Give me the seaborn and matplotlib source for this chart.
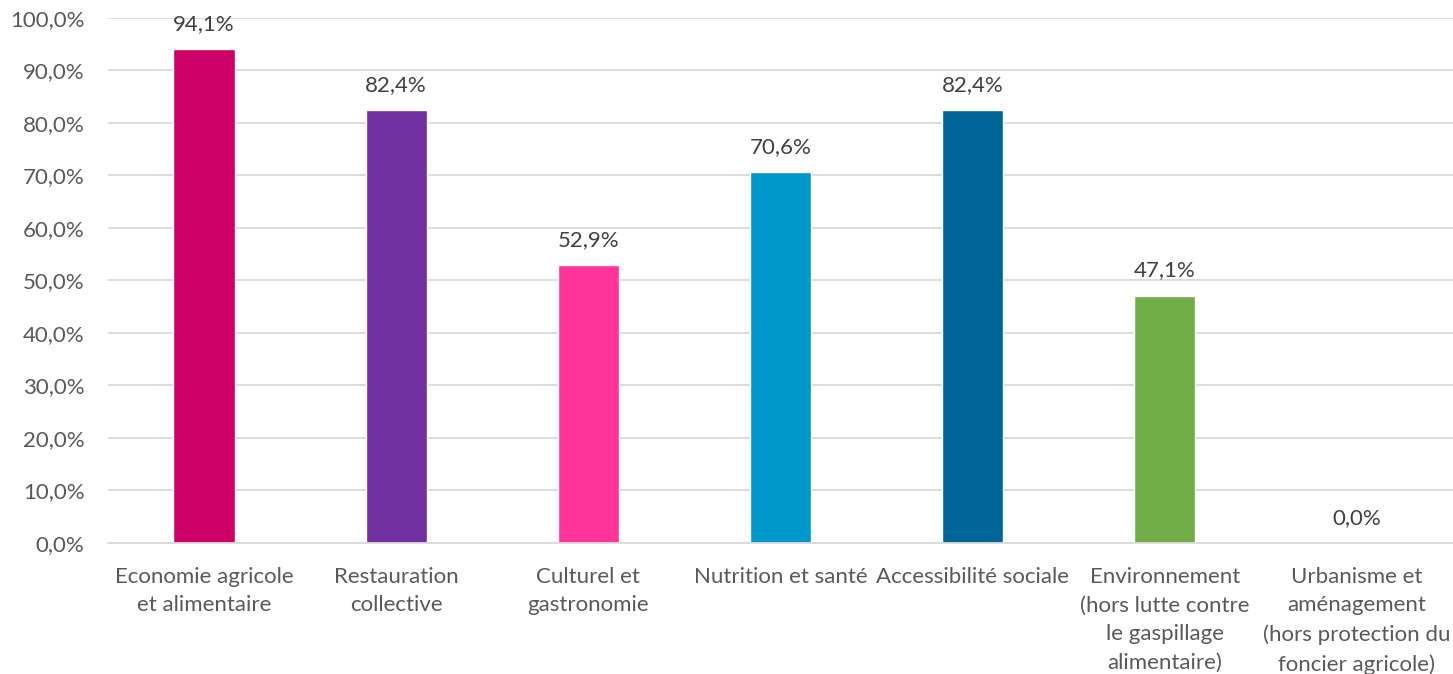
import matplotlib
matplotlib.use("Agg")
import matplotlib.pyplot as plt
import seaborn as sns
import pandas as pd

categories = [
    "Economie agricole\net alimentaire",
    "Restauration\ncollective",
    "Culturel et\ngastronomie",
    "Nutrition et santé",
    "Accessibilité sociale",
    "Environnement\n(hors lutte contre\nle gaspillage\nalimentaire)",
    "Urbanisme et\naménagement\n(hors protection du\nfoncier agricole)",
]
values = [94.1, 82.4, 52.9, 70.6, 82.4, 47.1, 0.0]
colors = ["#CC0066", "#7030A0", "#FF3399", "#0099CC", "#006699", "#70AD47", "#A5A5A5"]
yticks = [0, 10, 20, 30, 40, 50, 60, 70, 80, 90, 100]

sns.set_theme(style="white")
plt.rcParams["font.family"] = ["Lato", "DejaVu Sans"]

df = pd.DataFrame({"cat": categories, "val": values})

fig = plt.figure(figsize=(14.53, 6.74), dpi=100)
ax = fig.add_axes([0.0743, 0.1944, 0.9257, 0.7789])
sns.barplot(data=df, x="cat", y="val", hue="cat", palette=colors, legend=False,
            width=0.318, ax=ax, saturation=1)

ax.set_ylim(0, 100)
ax.set_xlim(-0.5, 6.5)
ax.set_yticks(yticks)
ax.set_yticklabels([f"{t:.1f}%".replace(".", ",") for t in yticks], fontsize=16, color="#595959")
ax.set_xticks(range(len(categories)))
ax.set_xticklabels(categories, fontsize=16, color="#595959", linespacing=1.55)
ax.tick_params(axis="x", length=0, pad=17)
ax.tick_params(axis="y", length=0, pad=17)
ax.set_xlabel("")
ax.set_ylabel("")
ax.yaxis.grid(True, color="#D9D9D9", linewidth=1.3)
ax.set_axisbelow(True)
for s in ["top", "right", "left"]:
    ax.spines[s].set_visible(False)
ax.spines["bottom"].set_color("#D9D9D9")
ax.spines["bottom"].set_linewidth(1.3)

for i, v in enumerate(values):
    ax.annotate(f"{v:.1f}%".replace(".", ","), (i, v), xytext=(0, 11), textcoords="offset points",
                ha="center", va="bottom", fontsize=16, color="#404040")

fig.savefig("out.png", dpi=100)
